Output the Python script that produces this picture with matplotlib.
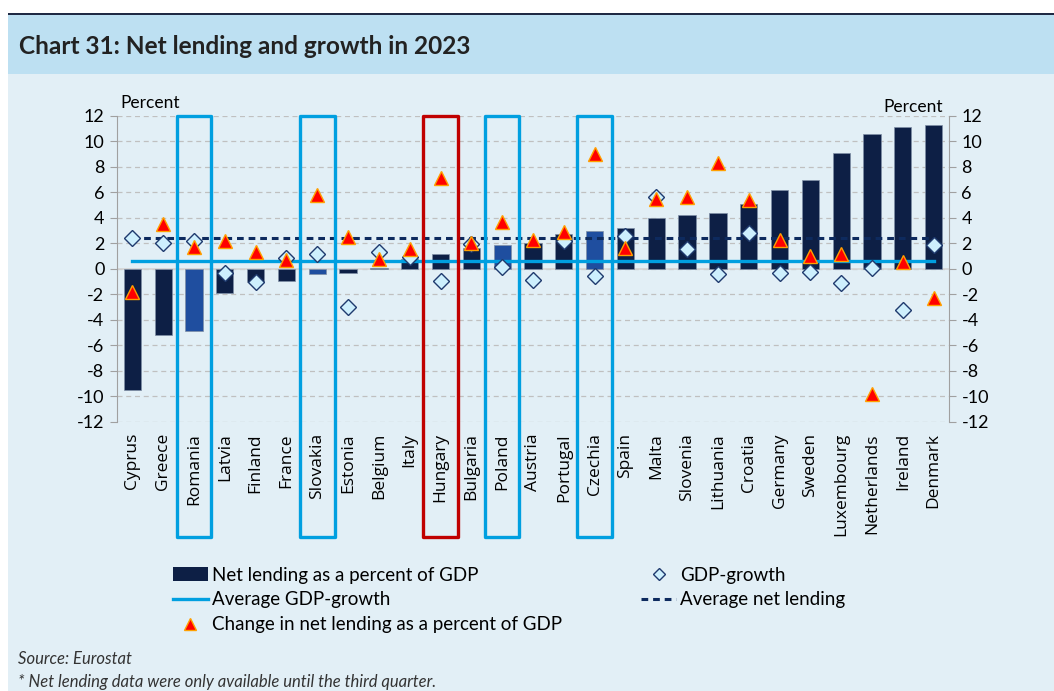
import matplotlib
matplotlib.use("Agg")
import matplotlib.pyplot as plt
from matplotlib.patches import Rectangle, Patch
from matplotlib.lines import Line2D
import numpy as np

plt.rcParams['font.family'] = ['Lato', 'DejaVu Sans']

# Data
countries = ['Cyprus', 'Greece', 'Romania', 'Latvia', 'Finland', 'France', 'Slovakia',
             'Estonia', 'Belgium', 'Italy', 'Hungary', 'Bulgaria', 'Poland', 'Austria',
             'Portugal', 'Czechia', 'Spain', 'Malta', 'Slovenia', 'Lithuania', 'Croatia',
             'Germany', 'Sweden', 'Luxembourg', 'Netherlands', 'Ireland', 'Denmark']
net_lending = [-9.5, -5.2, -4.9, -1.9, -1.0, -0.95, -0.4, -0.3, 0.05, 0.75, 1.15, 1.6,
               1.83, 2.06, 2.7, 2.98, 3.2, 4.0, 4.23, 4.36, 5.06, 6.18, 6.97, 9.08,
               10.54, 11.11, 11.27]
gdp_growth = [2.45, 2.0, 2.2, -0.35, -1.0, 0.85, 1.15, -3.0, 1.3, 0.95, -0.95, 1.95,
              0.18, -0.86, 2.2, -0.55, 2.6, 5.6, 1.57, -0.39, 2.8, -0.34, -0.26, -1.1,
              0.05, -3.2, 1.83]
change_lending = [-1.8, 3.5, 1.75, 2.15, 1.3, 0.7, 5.8, 2.5, 0.8, 1.55, 7.15, 2.05, 3.7,
                  2.25, 2.9, 9.0, 1.6, 5.45, 5.6, 8.3, 5.43, 2.24, 1.04, 1.2, -9.83,
                  0.52, -2.27]
avg_gdp_growth = 0.65
avg_net_lending = 2.43
light_bars = ['Romania', 'Slovakia', 'Poland', 'Czechia']
boxed_blue = ['Romania', 'Slovakia', 'Poland', 'Czechia']
boxed_red = ['Hungary']
yticks = list(range(-12, 13, 2))

navy = '#0D1F45'
mid_blue = '#1F4E9F'
cyan = '#009FE0'
red_box = '#C00000'

fig = plt.figure(figsize=(10.54, 6.91), dpi=100)
fig.patch.set_facecolor('white')

# background panels
fig.patches.append(Rectangle((8 / 1054, 0), 1, 1 - 74 / 691, transform=fig.transFigure,
                             facecolor='#E2EFF6', edgecolor='none', zorder=-10))
fig.patches.append(Rectangle((8 / 1054, 1 - 74 / 691), 1, 59 / 691, transform=fig.transFigure,
                             facecolor='#BDE0F2', edgecolor='none', zorder=-10))
fig.patches.append(Rectangle((8 / 1054, 1 - 15 / 691), 1, 2.5 / 691, transform=fig.transFigure,
                             facecolor='#1F2A44', edgecolor='none', zorder=-9))
fig.text(19 / 1054, 1 - 46 / 691, 'Chart 31: Net lending and growth in 2023',
         fontsize=17.6, fontweight='bold', color='#222222', va='center', ha='left')

ax = fig.add_axes([117 / 1054, 1 - 422 / 691, (949 - 117) / 1054, (422 - 115.7) / 691])
ax.set_facecolor('none')
x = np.arange(len(countries))

bar_colors = [mid_blue if c in light_bars else navy for c in countries]
ax.bar(x, net_lending, width=0.56, color=bar_colors, edgecolor='#7F8FA6',
       linewidth=0.5, zorder=3)
ax.plot([x[0], x[-1]], [avg_gdp_growth, avg_gdp_growth], color=cyan, lw=2.4, zorder=4)
ax.plot([x[0], x[-1]], [avg_net_lending, avg_net_lending], color='#0D2A5E', lw=2.2,
        ls=(0, (2.2, 1.6)), zorder=4)
ax.plot(x, gdp_growth, ls='none', marker='D', ms=7.8, mfc='#CDEFFD', mec='#1F3A6E',
        mew=1.0, zorder=5)
ax.plot(x, change_lending, ls='none', marker='^', ms=10, mfc='#FF0000', mec='#FFA000',
        mew=1.0, zorder=6)

for i, c in enumerate(countries):
    if c in boxed_blue or c in boxed_red:
        col = red_box if c in boxed_red else cyan
        ax.add_patch(Rectangle((i - 0.56, -21.0), 1.12, 33.0, fill=False, edgecolor=col,
                               lw=2.4, joinstyle='round', clip_on=False, zorder=8))

ax.set_xlim(-0.5, len(countries) - 0.5)
ax.set_ylim(-12, 12)
ax.set_yticks(yticks)
ax.set_yticklabels([str(t) for t in yticks], fontsize=13)
ax.yaxis.grid(True, color='#C0C0C0', ls=(0, (4, 3)), lw=0.9)
ax.axhline(0, color='#D4D4D4', lw=1.2, zorder=2)
ax.set_xticks(x)
ax.set_xticklabels(countries, rotation=90, fontsize=12.5, family=['Open Sans', 'DejaVu Sans'])
ax.tick_params(axis='x', length=0, pad=8)
ax.tick_params(axis='y', direction='out', length=5, color='#A0A0A0', pad=4)
for s in ['top', 'bottom', 'right']:
    ax.spines[s].set_visible(False)
ax.spines['left'].set_color('#A0A0A0')

ax2 = ax.twinx()
ax2.set_ylim(-12, 12)
ax2.set_yticks(yticks)
ax2.set_yticklabels([str(t) for t in yticks], fontsize=13)
ax2.tick_params(axis='y', direction='out', length=5, color='#A0A0A0', pad=4)
for s in ['top', 'bottom', 'left']:
    ax2.spines[s].set_visible(False)
ax2.spines['right'].set_color('#A0A0A0')
ax2.set_zorder(ax.get_zorder() - 1)

fig.text(120 / 1054, 1 - 103 / 691, 'Percent', fontsize=12.5, va='center', ha='left')
fig.text(943 / 1054, 1 - 107 / 691, 'Percent', fontsize=12.5, va='center', ha='right')

handles = [Patch(facecolor=navy, edgecolor='none'),
           Line2D([], [], color=cyan, lw=2.4),
           Line2D([], [], ls='none', marker='^', ms=8, mfc='#FF0000', mec='#FFA000'),
           Line2D([], [], ls='none', marker='D', ms=6.5, mfc='#CDEFFD', mec='#1F3A6E'),
           Line2D([], [], color='#0D2A5E', lw=2.2, ls=(0, (2.2, 1.6)))]
labels = ['Net lending as a percent of GDP', 'Average GDP-growth',
          'Change in net lending as a percent of GDP', 'GDP-growth', 'Average net lending']
fig.legend(handles, labels, loc='upper left', bbox_to_anchor=(165 / 1054, 1 - 559 / 691),
           ncol=2, frameon=False, fontsize=13.5, handlelength=1.9, handletextpad=0.2,
           labelspacing=0.42, columnspacing=4.2, borderaxespad=0)

fig.text(18 / 1054, 1 - 659 / 691, 'Source: Eurostat', fontsize=12, style='italic',
         va='center', color='#333333')
fig.text(18 / 1054, 1 - 682 / 691, '* Net lending data were only available until the third quarter.',
         fontsize=12, style='italic', va='center', color='#333333')

plt.savefig('out.png', dpi=100, facecolor=fig.get_facecolor())
